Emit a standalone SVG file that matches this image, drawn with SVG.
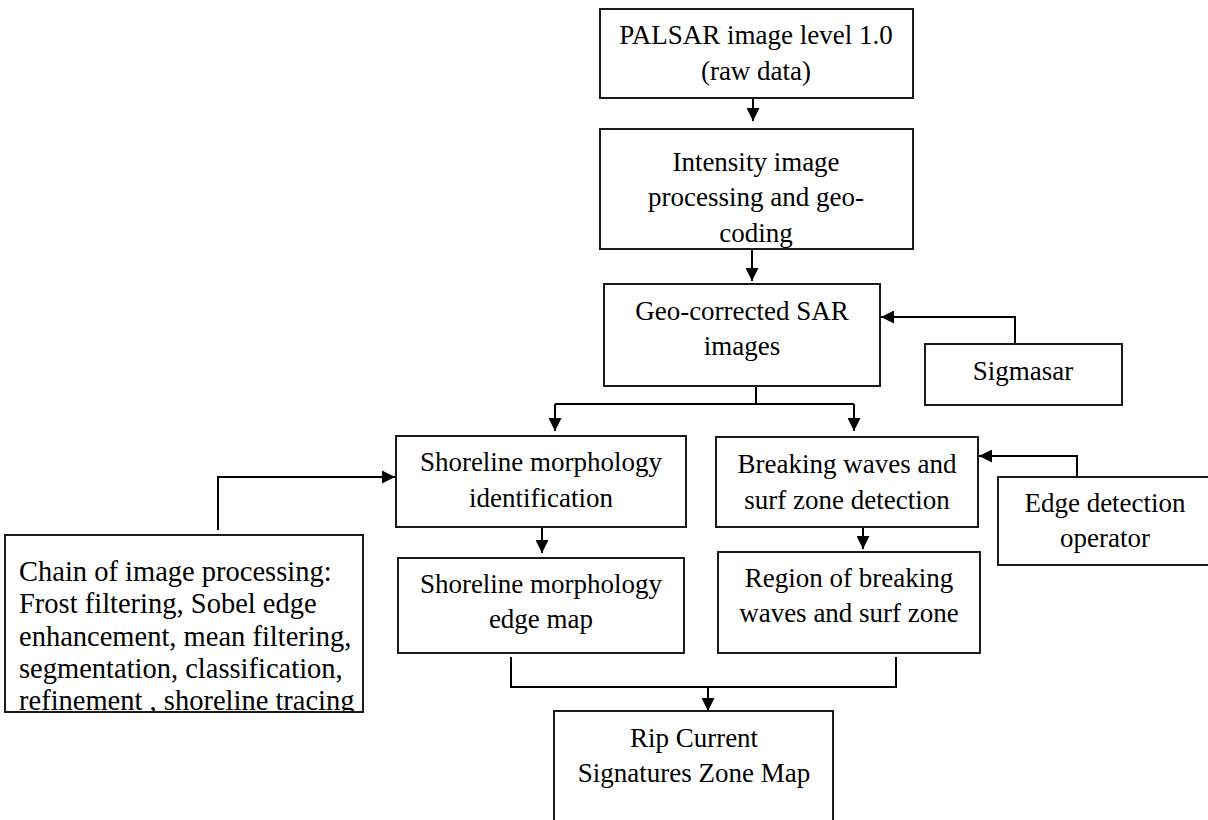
<svg xmlns="http://www.w3.org/2000/svg" width="1208" height="820" viewBox="0 0 1208 820">
<style>
.box{fill:#fff;stroke:#1a1a1a;stroke-width:2}
.t{font-family:"Liberation Serif","Times New Roman",serif;font-size:27px;fill:#000;text-anchor:middle}
.tl{font-family:"Liberation Serif","Times New Roman",serif;font-size:28.5px;fill:#000}
.c{fill:none;stroke:#000;stroke-width:2}
.a{fill:none;stroke:#000;stroke-width:2;marker-end:url(#ah)}
</style>
<defs>
<marker id="ah" viewBox="0 0 10 10" refX="10" refY="5" markerUnits="userSpaceOnUse" markerWidth="14" markerHeight="13" orient="auto">
<path d="M0,0 L10,5 L0,10 z" fill="#000"/>
</marker>
<clipPath id="clip2"><rect x="600" y="129" width="313" height="119"/></clipPath>
<clipPath id="clipChain"><rect x="5" y="535" width="358" height="176"/></clipPath>
</defs>
<rect width="1208" height="820" fill="#fff"/>
<g id="connectors">
<path class="a" d="M753,98 V121"/>
<path class="a" d="M752,249 V281"/>
<path class="a" d="M1015,344 V317 H881"/>
<path class="c" d="M756,375 V404"/>
<path class="c" d="M555,404 H854"/>
<path class="a" d="M555,404 V431"/>
<path class="a" d="M854,404 V431"/>
<path class="a" d="M218,530 V477 H395"/>
<path class="a" d="M542,527 V553"/>
<path class="a" d="M863,527 V549"/>
<path class="a" d="M1077,477 V456 H979"/>
<path class="c" d="M511,657 V687 H896 V657"/>
<path class="a" d="M708,687 V711"/>
</g>
<g id="n1">
<rect class="box" x="600" y="9" width="313" height="89"/>
<text class="t" x="756" y="44">PALSAR image level 1.0</text>
<text class="t" x="756" y="80">(raw data)</text>
</g>
<g id="n2">
<rect class="box" x="600" y="129" width="313" height="120"/>
<g clip-path="url(#clip2)">
<text class="t" x="756" y="171">Intensity image</text>
<text class="t" x="756" y="206">processing and geo-</text>
<text class="t" x="756" y="242">coding</text>
</g>
</g>
<g id="n3">
<rect class="box" x="604" y="284" width="276" height="102"/>
<text class="t" x="742" y="320">Geo-corrected SAR</text>
<text class="t" x="742" y="355">images</text>
</g>
<g id="n4">
<rect class="box" x="925" y="344" width="197" height="61"/>
<text class="t" x="1023" y="380">Sigmasar</text>
</g>
<g id="n5">
<rect class="box" x="396" y="436" width="290" height="91"/>
<text class="t" x="541" y="471">Shoreline morphology</text>
<text class="t" x="541" y="507">identification</text>
</g>
<g id="n6">
<rect class="box" x="716" y="437" width="262" height="90"/>
<text class="t" x="847" y="473">Breaking waves and</text>
<text class="t" x="847" y="509">surf zone detection</text>
</g>
<g id="n7">
<rect class="box" x="998" y="477" width="214" height="88"/>
<text class="t" x="1105" y="512">Edge detection</text>
<text class="t" x="1105" y="547">operator</text>
</g>
<g id="n8">
<rect class="box" x="5" y="535" width="358" height="177"/>
<g clip-path="url(#clipChain)">
<text class="tl" x="19" y="581">Chain of image processing:</text>
<text class="tl" x="19" y="613">Frost filtering, Sobel edge</text>
<text class="tl" x="19" y="646">enhancement, mean filtering,</text>
<text class="tl" x="19" y="678">segmentation, classification,</text>
<text class="tl" x="19" y="710">refinement , shoreline tracing</text>
</g>
</g>
<g id="n9">
<rect class="box" x="398" y="558" width="286" height="95"/>
<text class="t" x="541" y="593">Shoreline morphology</text>
<text class="t" x="541" y="628">edge map</text>
</g>
<g id="n10">
<rect class="box" x="718" y="552" width="262" height="101"/>
<text class="t" x="849" y="587">Region of breaking</text>
<text class="t" x="849" y="622">waves and surf zone</text>
</g>
<g id="n11">
<rect class="box" x="554" y="711" width="279" height="112"/>
<text class="t" x="694" y="747">Rip Current</text>
<text class="t" x="694" y="782">Signatures Zone Map</text>
</g>
</svg>
